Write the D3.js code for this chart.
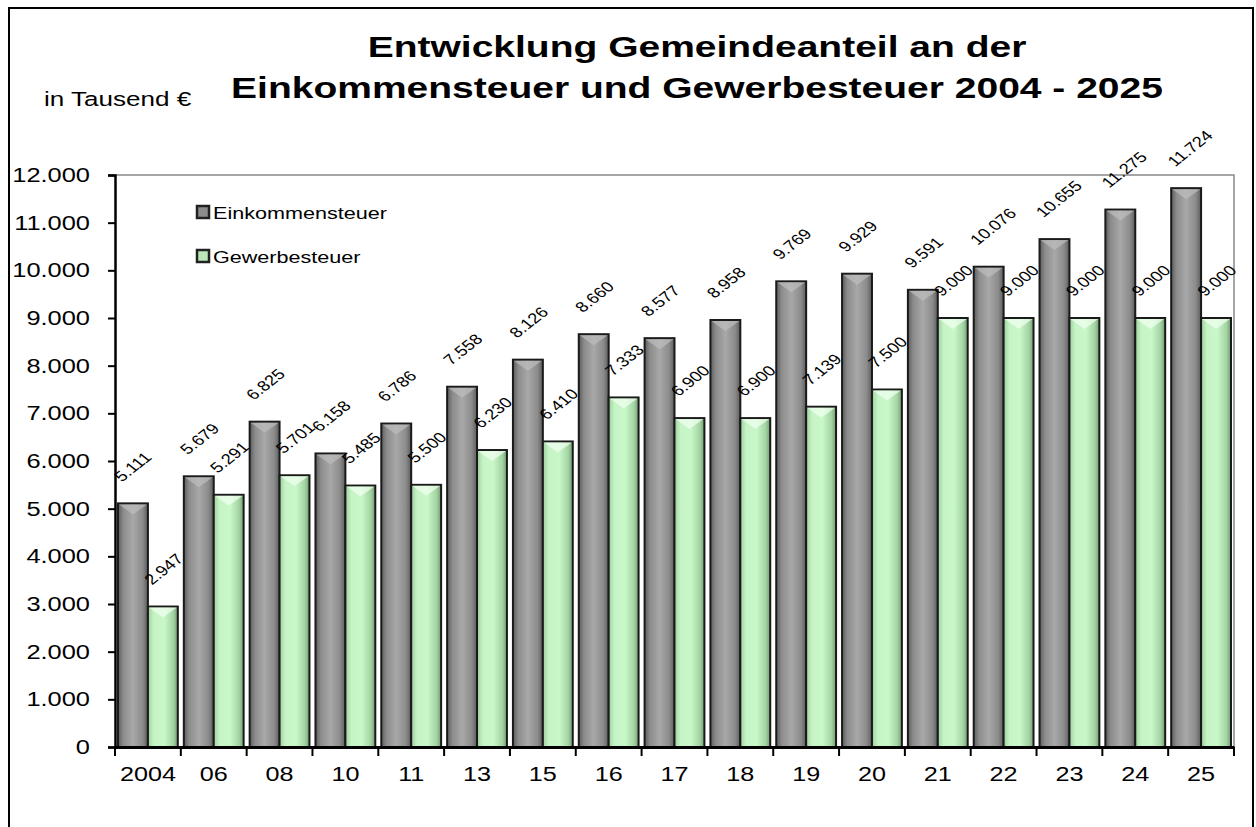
<!DOCTYPE html>
<html>
<head>
<meta charset="utf-8">
<script src="https://cdn.jsdelivr.net/npm/d3@7"></script>
<style>
  body { margin: 0; background: #fff; }
  text { font-family: Arial, "Liberation Sans", sans-serif; }
</style>
</head>
<body>
<svg width="1256" height="827"></svg>
<script>
var jahre = ["2004", "06", "08", "10", "11", "13", "15", "16", "17", "18", "19", "20", "21", "22", "23", "24", "25"];
var einkommensteuer = [5111, 5679, 6825, 6158, 6786, 7558, 8126, 8660, 8577, 8958, 9769, 9929, 9591, 10076, 10655, 11275, 11724];
var gewerbesteuer = [2947, 5291, 5701, 5485, 5500, 6230, 6410, 7333, 6900, 6900, 7139, 7500, 9000, 9000, 9000, 9000, 9000];
var serien = ["Einkommensteuer", "Gewerbesteuer"];
var yTicks = [0, 1000, 2000, 3000, 4000, 5000, 6000, 7000, 8000, 9000, 10000, 11000, 12000];

var svg = d3.select("svg"),
    margin = {top: 175, right: 22, bottom: 80, left: 115},
    width = +svg.attr("width") - margin.left - margin.right,
    height = +svg.attr("height") - margin.top - margin.bottom;

// Die Vorlage ist waagerecht gestreckt
var sx = 1.27;

var de = d3.formatLocale({decimal: ",", thousands: ".", grouping: [3], currency: ["", " €"]});
var fmt = de.format(",d");

// Daten als Tabelle
var data = jahre.map(function(j, i) {
  return {jahr: j, werte: [einkommensteuer[i], gewerbesteuer[i]]};
});

var x0 = d3.scaleBand().domain(jahre).range([0, width]).padding(0);
var x1 = d3.scaleBand().domain(serien).range([3, x0.bandwidth() - 3]).padding(0);
var y = d3.scaleLinear().domain([0, 12000]).range([height, 0]);

// Verläufe für die Balken
var defs = svg.append("defs");
var gGrau = defs.append("linearGradient").attr("id", "grau").attr("x1", "0").attr("x2", "1").attr("y1", "0").attr("y2", "0");
[["0", "#5c5c5c"], ["0.18", "#8c8c8c"], ["0.5", "#a8a8a8"], ["0.82", "#8c8c8c"], ["1", "#5c5c5c"]].forEach(function(s) {
  gGrau.append("stop").attr("offset", s[0]).attr("stop-color", s[1]);
});
var gGruen = defs.append("linearGradient").attr("id", "gruen").attr("x1", "0").attr("x2", "1").attr("y1", "0").attr("y2", "0");
[["0", "#9fcf9f"], ["0.2", "#c6f4c6"], ["0.55", "#c8f7c8"], ["0.85", "#a3d3a3"], ["1", "#6f9c6f"]].forEach(function(s) {
  gGruen.append("stop").attr("offset", s[0]).attr("stop-color", s[1]);
});
var fills = ["url(#grau)", "url(#gruen)"];
var legendFill = ["#8c8c8c", "#b8e8b8"];

// Text an Position (x,y) mit Streckung
function textAt(parent, x, yy, size, s) {
  return parent.append("text")
    .attr("transform", "translate(" + x + "," + yy + ") scale(" + (s || sx) + ",1)")
    .style("font-size", size + "px");
}

// Rahmen außen
svg.append("rect")
  .attr("x", 9).attr("y", 8)
  .attr("width", 1244).attr("height", 840)
  .attr("fill", "none").attr("stroke", "#000").attr("stroke-width", 2);

// Titel
textAt(svg, 697, 57, 30, 1.3).attr("text-anchor", "middle").style("font-weight", "bold")
  .text("Entwicklung Gemeindeanteil an der");
textAt(svg, 697, 98, 30, 1.3).attr("text-anchor", "middle").style("font-weight", "bold")
  .text("Einkommensteuer und Gewerbesteuer 2004 - 2025");

textAt(svg, 44, 106, 20.5).text("in Tausend €");

var g = svg.append("g").attr("transform", "translate(" + margin.left + "," + margin.top + ")");

// Plotrahmen oben / rechts
g.append("path")
  .attr("d", "M0,0H" + width + "V" + height)
  .attr("fill", "none").attr("stroke", "#888").attr("stroke-width", 1.5);

// Balken
var gruppe = g.selectAll(".gruppe")
  .data(data).enter().append("g")
  .attr("class", "gruppe")
  .attr("transform", function(d) { return "translate(" + x0(d.jahr) + ",0)"; });

var balken = gruppe.selectAll(".balken")
  .data(function(d) { return d.werte.map(function(v, i) { return {serie: serien[i], i: i, wert: v}; }); })
  .enter();

balken.append("rect")
  .attr("x", function(d) { return x1(d.serie); })
  .attr("y", function(d) { return y(d.wert); })
  .attr("width", x1.bandwidth())
  .attr("height", function(d) { return height - y(d.wert); })
  .attr("fill", function(d) { return fills[d.i]; })
  .attr("stroke", "#1a1a1a").attr("stroke-width", 2);

// kleiner Glanz-Keil oben
balken.append("path")
  .attr("d", function(d) {
    var l = x1(d.serie) + 1, r = l + x1.bandwidth() - 2, t = y(d.wert) + 1, m = (l + r) / 2;
    return "M" + l + "," + t + "L" + r + "," + t + "L" + m + "," + (t + 10) + "Z";
  })
  .attr("fill", function(d) { return d.i ? "#f2fff2" : "#bdbdbd"; })
  .attr("opacity", 0.7);

// Werte
balken.append("text")
  .attr("transform", function(d) {
    return "translate(" + (x1(d.serie) + 4) + "," + (y(d.wert) - 21) + ") scale(" + sx + ",1) rotate(-45)";
  })
  .style("font-size", "14.5px")
  .text(function(d) { return fmt(d.wert); });

// Achsen
var yAxis = d3.axisLeft(y).tickValues(yTicks).tickSize(7).tickPadding(18).tickFormat(fmt);
var yg = g.append("g").call(yAxis);
yg.select(".domain").attr("stroke-width", 2.5);
yg.selectAll(".tick line").attr("stroke-width", 2);
yg.selectAll("text")
  .style("font-size", "20px").attr("fill", "#000")
  .attr("transform", function() { return "translate(" + d3.select(this).attr("x") + ",0) scale(" + sx + ",1)"; })
  .attr("x", 0);

var xAxis = d3.axisBottom(x0).tickSize(0).tickPadding(19);
var xg = g.append("g").attr("transform", "translate(0," + height + ")").call(xAxis);
xg.select(".domain").attr("stroke-width", 3);
xg.selectAll("text")
  .style("font-size", "21px").attr("fill", "#000")
  .attr("transform", "scale(" + (sx - 0.07) + ",1)");
xg.selectAll(".grenze")
  .data(jahre.concat(["ende"])).enter().append("line")
  .attr("x1", function(d, i) { return i * x0.step(); })
  .attr("x2", function(d, i) { return i * x0.step(); })
  .attr("y1", 0).attr("y2", 9)
  .attr("stroke", "#000").attr("stroke-width", 2);

// Legende
var legende = svg.append("g").attr("transform", "translate(197,206)");
var li = legende.selectAll(".li").data(serien).enter().append("g")
  .attr("transform", function(d, i) { return "translate(0," + (i * 44) + ")"; });
li.append("rect")
  .attr("width", 12).attr("height", 12)
  .attr("fill", function(d, i) { return legendFill[i]; })
  .attr("stroke", "#222").attr("stroke-width", 2.5);
li.append("text")
  .attr("transform", "translate(16,13) scale(" + sx + ",1)")
  .style("font-size", "17px")
  .text(function(d) { return d; });
</script>
</body>
</html>
